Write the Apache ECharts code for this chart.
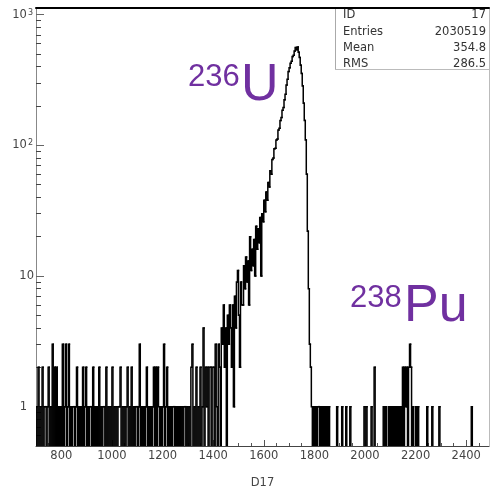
<!DOCTYPE html>
<html>
<head>
<meta charset="utf-8">
<script src="https://cdn.jsdelivr.net/npm/echarts@6/dist/echarts.min.js"></script>
<style>html,body{margin:0;padding:0;background:#fff}#c{width:492px;height:494px}</style>
</head>
<body>
<div id="c"></div>
<script>
// Histogram definition (D17): bins of width 4 starting at 700
const binStart = 700;
const binWidth = 4;

// counts, 700 - 1400 (noise below the 236U peak)
const countsLow = [
  1,0,2,0,1,0,2,0,1,1,0,1,2,0,1,0,3,0,2,0,2,0,1,0,1,
  0,3,0,1,3,0,1,3,0,1,0,1,1,0,1,2,0,1,0,1,0,2,0,1,2,
  0,1,0,1,1,0,2,0,1,0,1,0,2,0,1,0,1,1,0,2,0,1,0,1,0,
  2,0,1,0,1,0,1,1,2,0,1,0,1,0,1,2,0,1,0,2,0,1,0,1,1,
  0,1,3,0,1,0,1,0,1,2,0,1,0,1,0,1,2,0,2,0,2,1,0,1,0,
  1,3,0,1,2,0,1,0,1,0,1,1,0,1,0,1,0,1,0,1,0,1,1,0,1,
  0,1,0,2,3,0,1,0,2,0,1,0,2,0,1,4,0,2,1,2,0,2,2,0,2
];

// counts, 1400 - 1788 (236U peak)
const countsPeak = [
  2,0,3,1,0,3,2,0,4,
  3,6,2,4,0,5,3,6,4,2,6,1,7,4,9,11,5,2,
  9,6,6,12,8,14,9,13,6,
  20,11,16,12,19,10,24,16,23,18,28,
  10,30,26,38,31,44,38,52,48,64,60,78,80,
  94,95,110,112,131,135,155,163,186,195,223,246,290,320,
  368,392,425,440,478,490,528,560,540,565,515,470,410,
  355,285,210,155,110,60,22,8,3,2
];

// counts, 1788 - 2492 (238Pu region)
const countsHigh = [
  1,0,1,0,1,0,1,1,0,1,0,1,0,1,0,1,0,1,
  0,0,0,0,0,0,0,1,0,0,0,0,1,0,0,0,1,0,0,0,1,
  0,0,0,0,0,0,0,0,0,0,0,0,
  0,1,0,1,0,0,0,0,1,0,0,2,
  0,0,0,0,0,0,0,0,
  1,0,1,0,0,1,0,1,0,
  1,0,1,0,1,0,1,0,1,0,
  2,0,2,1,2,0,2,3,2,0,
  1,0,0,1,0,1,0,0,0,0,0,0,0,0,1,0,0,0,0,1,0,0,0,0,0,0,1,
  0,0,0,0,0,0,0,0,0,0,0,0,0,0,0,0,0,0,0,0,0,0,0,0,0,0,0,0,0,0,0,
  1,
  0,0,0,0,0,0,0,0,0,0,0,0,0,0,0,0,0
];

// axes
const xMin = 700, xMax = 2490;
const yMin = 0.5, yMax = 1125;
const xTickValues = [800, 1000, 1200, 1400, 1600, 1800, 2000, 2200, 2400];
const xTickLabels = ['800', '1000', '1200', '1400', '1600', '1800', '2000', '2200', '2400'];
const xMinorTickValues = [750, 850, 900, 950, 1050, 1100, 1150, 1250, 1300, 1350, 1450, 1500, 1550,
  1650, 1700, 1750, 1850, 1900, 1950, 2050, 2100, 2150, 2250, 2300, 2350, 2450];
const yTickValues = [1, 10, 100, 1000];
const yTickLabels = ['{one|1}', '{b|10}', '{b|10}{s|2}', '{b|10}{s|3}'];
const yMinorTickValues = [0.6, 0.7, 0.8, 0.9, 2, 3, 4, 5, 6, 7, 8, 9, 20, 30, 40, 50, 60, 70, 80, 90,
  200, 300, 400, 500, 600, 700, 800, 900];
const xTitle = 'D17';

// statistics box
const statsNames = ['ID', 'Entries', 'Mean', 'RMS'];
const statsValues = ['17', '2030519', '354.8', '286.5'];

// peak annotations
const isotopeMass = ['236', '238'];
const isotopeName = ['U', 'Pu'];

const ZERO_DRAW = 0.1; // empty bins are drawn below the log axis minimum (like ROOT)
const LOG = v => Math.log10(v);

const counts = countsLow.concat(countsPeak, countsHigh);
const drawVal = c => (c > 0 ? c : ZERO_DRAW);
// each bin: [left edge, right edge, value, previous bin value]
const histData = counts.map((c, i) => [
  binStart + binWidth * i,
  binStart + binWidth * (i + 1),
  drawVal(c),
  i > 0 ? drawVal(counts[i - 1]) : ZERO_DRAW
]);

const labelFont = 'DejaVu Sans';
const labelColor = '#444';
const purple = '#7030A0';

const chart = echarts.init(document.getElementById('c'), null, {renderer: 'canvas', width: 492, height: 494});

function renderBin(params, api) {
  const x0 = api.value(0), x1 = api.value(1), y = api.value(2), yPrev = api.value(3);
  const pA = api.coord([x0, yPrev]);
  const pB = api.coord([x0, y]);
  const pC = api.coord([x1, y]);
  return {
    type: 'polyline',
    shape: {points: [pA, pB, pC]},
    style: {stroke: '#000', lineWidth: 1.5, fill: null, lineCap: 'square'},
    silent: true
  };
}

const statsGraphics = [];
statsNames.forEach((n, i) => {
  const y = 15.5 + i * 16.2;
  statsGraphics.push({type: 'text', x: 343, y: y, silent: true,
    style: {text: n, font: '11.5px "DejaVu Sans"', fill: '#333', align: 'left', verticalAlign: 'middle',
      textAlign: 'left', textVerticalAlign: 'middle'}});
  statsGraphics.push({type: 'text', x: 486, y: y, silent: true,
    style: {text: statsValues[i], font: '11.5px "DejaVu Sans"', fill: '#333', align: 'right', verticalAlign: 'middle',
      textAlign: 'right', textVerticalAlign: 'middle'}});
});

function isoText(txt, x, y, size) {
  return {type: 'text', x: x, y: y, silent: true,
    style: {text: txt, font: size + 'px "Liberation Sans"', fill: purple, align: 'left', verticalAlign: 'middle',
      textAlign: 'left', textVerticalAlign: 'middle'}};
}

const option = {
  animation: false,
  backgroundColor: '#fff',
  grid: {left: 36, right: 3, top: 8, bottom: 45, containLabel: false},
  xAxis: [
    {
      type: 'value', min: xMin, max: xMax, position: 'bottom',
      name: xTitle, nameLocation: 'middle', nameGap: 31,
      nameTextStyle: {fontFamily: labelFont, fontSize: 11.5, color: labelColor},
      axisLine: {show: true, onZero: false, lineStyle: {color: '#444', width: 1}},
      axisTick: {show: true, inside: true, length: 6, customValues: xTickValues, lineStyle: {color: '#555'}},
      axisLabel: {show: true, customValues: xTickValues, margin: 4, fontFamily: labelFont, fontSize: 11.5, color: labelColor,
        formatter: v => xTickLabels[xTickValues.indexOf(v)]},
      splitLine: {show: false}
    },
    {
      type: 'value', min: xMin, max: xMax, position: 'bottom',
      axisLine: {show: false, onZero: false},
      axisTick: {show: true, inside: true, length: 3, customValues: xMinorTickValues, lineStyle: {color: '#555'}},
      axisLabel: {show: false}, splitLine: {show: false}
    },
    {
      type: 'value', min: xMin, max: xMax, position: 'top',
      axisLine: {show: true, onZero: false, lineStyle: {color: '#000', width: 2}},
      axisTick: {show: false}, axisLabel: {show: false}, splitLine: {show: false}
    }
  ],
  yAxis: [
    {
      type: 'log', logBase: 10, min: yMin, max: yMax,
      axisLine: {show: false}, axisTick: {show: false}, axisLabel: {show: false}, splitLine: {show: false}
    },
    {
      type: 'value', min: LOG(yMin), max: LOG(yMax), position: 'left',
      axisLine: {show: true, onZero: false, lineStyle: {color: '#888', width: 1}},
      axisTick: {show: true, inside: true, length: 8, customValues: yTickValues.map(LOG), lineStyle: {color: '#666'}},
      axisLabel: {
        show: true, customValues: yTickValues.map(LOG), margin: 2,
        formatter: v => {
          const i = yTickValues.findIndex(t => Math.abs(LOG(t) - v) < 1e-6);
          return i >= 0 ? yTickLabels[i] : '';
        },
        rich: {
          one: {fontFamily: labelFont, fontSize: 11.5, color: labelColor, padding: [0, 7, 0, 0]},
          b: {fontFamily: labelFont, fontSize: 11.5, color: labelColor},
          s: {fontFamily: labelFont, fontSize: 8, color: labelColor, verticalAlign: 'top', padding: [0, 1, 0, 1]}
        }
      },
      splitLine: {show: false}
    },
    {
      type: 'value', min: LOG(yMin), max: LOG(yMax), position: 'left',
      axisLine: {show: false, onZero: false},
      axisTick: {show: true, inside: true, length: 5, customValues: yMinorTickValues.map(LOG), lineStyle: {color: '#444'}},
      axisLabel: {show: false}, splitLine: {show: false}
    },
    {
      type: 'value', min: LOG(yMin), max: LOG(yMax), position: 'right',
      axisLine: {show: true, onZero: false, lineStyle: {color: '#bbb', width: 1}},
      axisTick: {show: false}, axisLabel: {show: false}, splitLine: {show: false}
    }
  ],
  series: [{
    type: 'custom', xAxisIndex: 0, yAxisIndex: 0,
    data: histData, renderItem: renderBin,
    encode: {x: [0, 1], y: 2},
    clip: true, silent: true
  }],
  graphic: [
    {type: 'line', silent: true, shape: {x1: 335.5, y1: 8, x2: 335.5, y2: 69.5}, style: {stroke: '#aaa', lineWidth: 1}},
    {type: 'line', silent: true, shape: {x1: 335, y1: 69.5, x2: 489, y2: 69.5}, style: {stroke: '#bbb', lineWidth: 1}},
    ...statsGraphics,
    isoText(isotopeMass[0], 188, 77, 31),
    isoText(isotopeName[0], 241, 86, 52),
    isoText(isotopeMass[1], 350, 298, 31),
    isoText(isotopeName[1], 404, 307, 52)
  ]
};
chart.setOption(option);
</script>
</body>
</html>
